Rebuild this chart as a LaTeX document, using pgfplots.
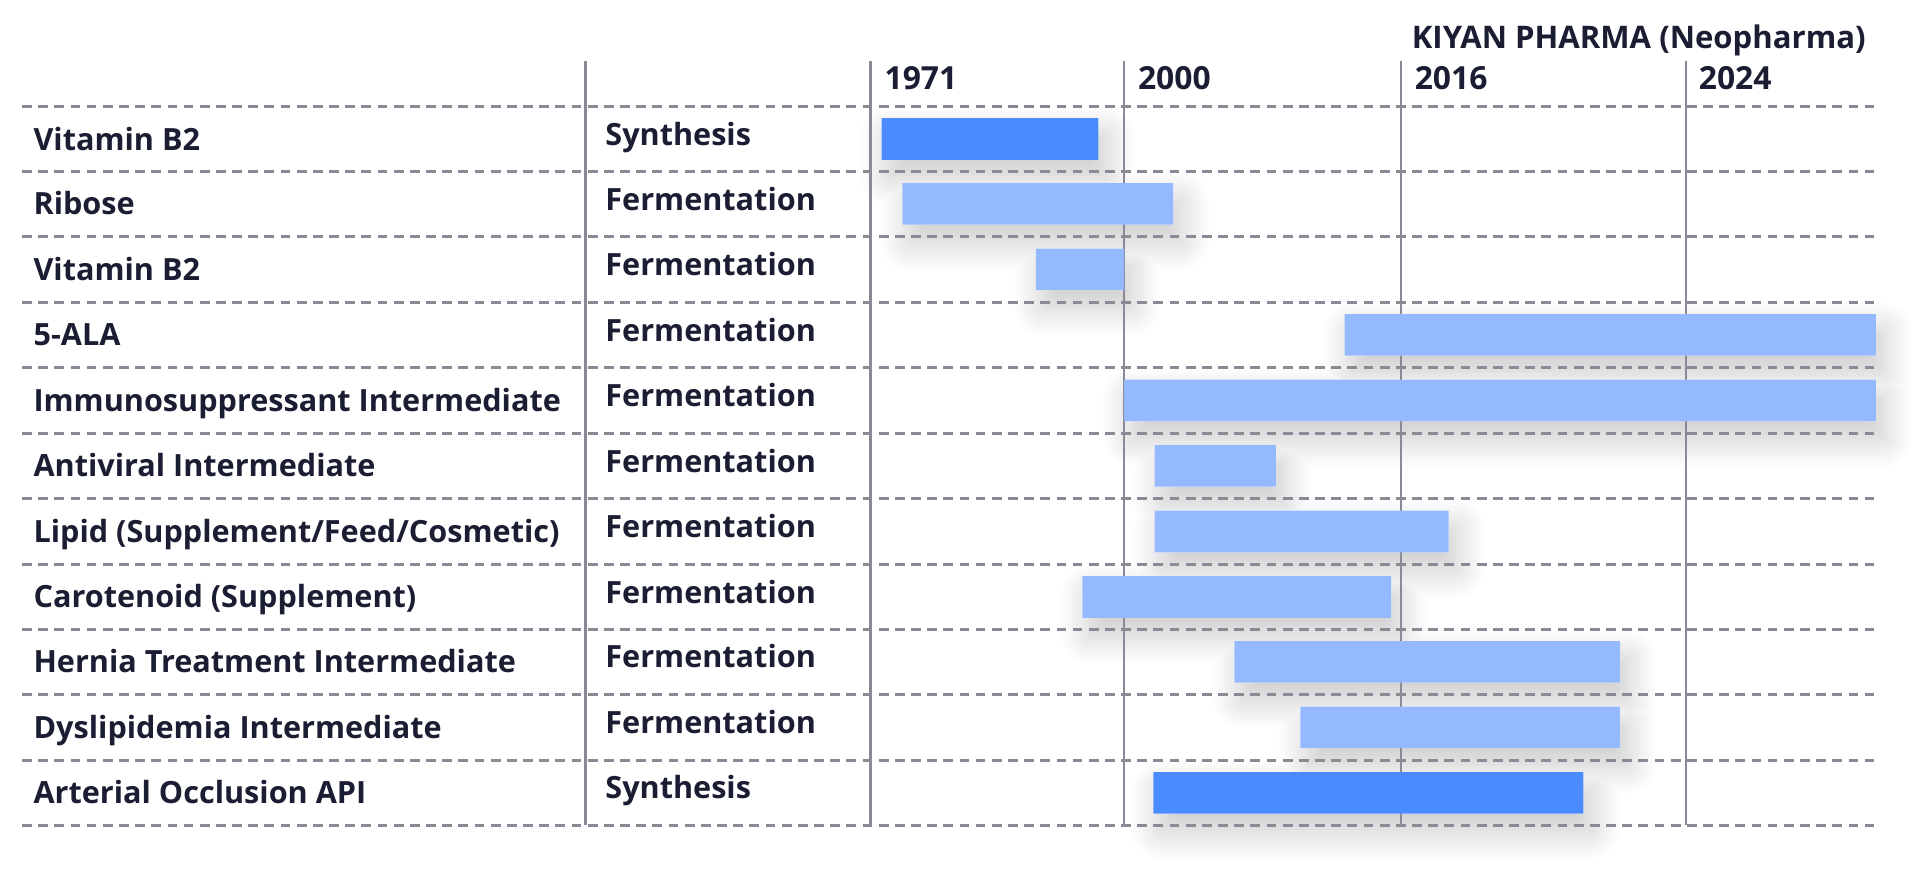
\documentclass[border=0pt]{standalone}
\usepackage{fontspec}
\setmainfont{Open Sans}
\usepackage{pgfplots}
\pgfplotsset{compat=1.18}
\usepackage{pgfplotstable}
\usetikzlibrary{shadows.blur}

\definecolor{darkbar}{HTML}{4A8CFF}
\definecolor{lightbar}{HTML}{95B9FF}
\definecolor{rule}{HTML}{8A8996}
\definecolor{ink}{HTML}{1B1E33}

% rows: y = row centre, start/end of bar in chart units (px of the layout)
\pgfplotstableread{
y      start  dark  light
113.5  720    177   0
166.5  737    0     221
220    846    0     72
273.5  1098   0     434
327    918    0     614
380.5  943    0     99
434    943    0     240
487.5  884    0     252
540.5  1008   0     315
594    1062   0     261
647.5  942    351   0
}\bars

\pgfplotsset{
  frame/.style={
    scale only axis, width=784pt, height=362pt,
    xmin=0, xmax=1568, ymin=0, ymax=724, y dir=reverse,
    hide axis, clip=false,
    xbar stacked, bar width=34,
  },
}
\tikzset{
  lab/.style={anchor=base west, text=ink, font=\fontsize{12.5}{15}\selectfont\bfseries, inner sep=0pt},
  yr/.style={lab, font=\fontsize{13}{15}\selectfont\bfseries},
}

\begin{document}
\begin{tikzpicture}
\begin{axis}[frame]
  \path (rel axis cs:0,0) rectangle (rel axis cs:1,1);
  % grid
  \foreach \yy in {87,140,193,247,300,354,407,461,514,567,621,674}{
    \edef\tmp{\noexpand\draw[rule, line width=1.1pt, dash pattern=on 4pt off 2.6pt]
      (axis cs:18,\yy) -- (axis cs:1532,\yy);}\tmp
  }
  \foreach \xx in {478,711,918,1144,1377}{
    \edef\tmp{\noexpand\draw[rule, line width=1pt] (axis cs:\xx,50) -- (axis cs:\xx,674);}\tmp
  }
  % shadows
  \addplot[draw=none, fill=none] table[x=start, y=y] {\bars};
  \addplot[draw=none, fill=white,
    blur shadow={shadow xshift=3pt, shadow yshift=-7pt, shadow blur radius=12pt,
      shadow blur steps=24, shadow opacity=22}]
    table[x expr=\thisrow{dark}+\thisrow{light}, y=y] {\bars};

  \node[lab, anchor=base east, font=\fontsize{12.7}{15}\selectfont\bfseries] at (axis cs:1524,39.5) {KIYAN PHARMA (Neopharma)};
  \node[yr] at (axis cs:722,72.7) {1971};
  \node[yr] at (axis cs:929,72.7) {2000};
  \node[yr] at (axis cs:1155,72.7) {2016};
  \node[yr] at (axis cs:1387,72.7) {2024};

  \node[lab] at (axis cs:27,122.5) {Vitamin B2};
  \node[lab] at (axis cs:27,175.5) {Ribose};
  \node[lab] at (axis cs:27,229) {Vitamin B2};
  \node[lab] at (axis cs:27,282.5) {5-ALA};
  \node[lab] at (axis cs:27,336) {Immunosuppressant Intermediate};
  \node[lab] at (axis cs:27,389.5) {Antiviral Intermediate};
  \node[lab] at (axis cs:27,443) {Lipid (Supplement/Feed/Cosmetic)};
  \node[lab] at (axis cs:27,496.5) {Carotenoid (Supplement)};
  \node[lab] at (axis cs:27,549.5) {Hernia Treatment Intermediate};
  \node[lab] at (axis cs:27,603) {Dyslipidemia Intermediate};
  \node[lab] at (axis cs:27,656.5) {Arterial Occlusion API};

  \node[lab] at (axis cs:494,118.5) {Synthesis};
  \node[lab] at (axis cs:494,171.5) {Fermentation};
  \node[lab] at (axis cs:494,225) {Fermentation};
  \node[lab] at (axis cs:494,278.5) {Fermentation};
  \node[lab] at (axis cs:494,332) {Fermentation};
  \node[lab] at (axis cs:494,385.5) {Fermentation};
  \node[lab] at (axis cs:494,439) {Fermentation};
  \node[lab] at (axis cs:494,492.5) {Fermentation};
  \node[lab] at (axis cs:494,545.5) {Fermentation};
  \node[lab] at (axis cs:494,599) {Fermentation};
  \node[lab] at (axis cs:494,652.5) {Synthesis};
\end{axis}

\begin{axis}[frame]
  \addplot[draw=none, fill=none] table[x=start, y=y] {\bars};
  \addplot[draw=none, fill=darkbar] table[x=dark, y=y] {\bars};
  \addplot[draw=none, fill=lightbar] table[x=light, y=y] {\bars};
\end{axis}
\end{tikzpicture}
\end{document}
